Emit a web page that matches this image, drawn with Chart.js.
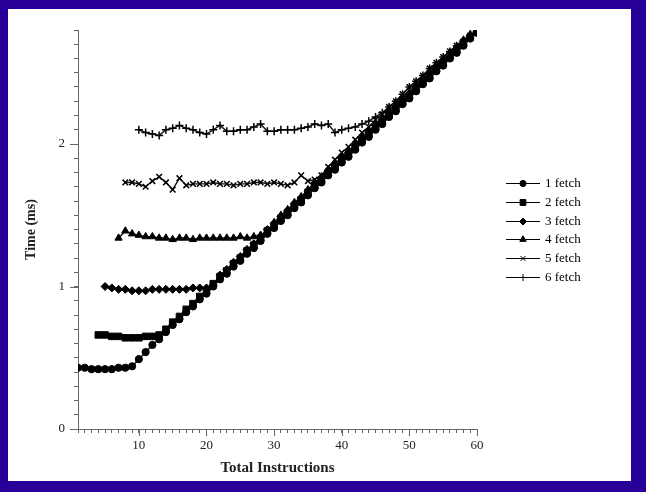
<!DOCTYPE html>
<html>
<head>
<meta charset="utf-8">
<script src="https://cdn.jsdelivr.net/npm/chart.js@4/dist/chart.umd.min.js"></script>
<style>
  html, body { margin: 0; padding: 0; width: 646px; height: 492px; background: #280099; overflow: hidden; }
  #frame { position: absolute; left: 8px; top: 9px; width: 623px; height: 472px; background: #fff; }
</style>
</head>
<body>
<div id="frame"><canvas id="chart" width="623" height="472"></canvas></div>
<script>
// x = total instructions 1..60
const xs = [];
for (let i = 1; i <= 60; i++) xs.push(i);

const seriesNames = ['1 fetch', '2 fetch', '3 fetch', '4 fetch', '5 fetch', '6 fetch'];
const pointStyles = ['circle', 'rect', 'rectRot', 'triangle', 'crossRot', 'cross'];
const pointSizes = [3.6, 4.6, 4, 4.2, 4, 4];

// time (ms), index 0 -> x = 1
const fetch1 = [0.43, 0.43, 0.42, 0.42, 0.42, 0.42, 0.43, 0.43, 0.44,
  0.49, 0.54, 0.59, 0.63, 0.68, 0.73, 0.77, 0.82, 0.86, 0.91,
  0.95, 1.00, 1.05, 1.09, 1.14, 1.18, 1.23, 1.27, 1.32, 1.37,
  1.41, 1.46, 1.50, 1.55, 1.59, 1.64, 1.69, 1.73, 1.78, 1.82,
  1.87, 1.91, 1.96, 2.01, 2.05, 2.10, 2.14, 2.19, 2.23, 2.28,
  2.32, 2.37, 2.42, 2.46, 2.51, 2.55, 2.60, 2.64, 2.69, 2.74,
  2.78];
const fetch2 = [null, null, null,
  0.66, 0.66, 0.65, 0.65, 0.64, 0.64, 0.64, 0.65, 0.65, 0.66,
  0.70, 0.75, 0.79, 0.84, 0.88, 0.93,
  0.97, 1.02, 1.07, 1.11, 1.16, 1.20, 1.25, 1.29, 1.34, 1.39,
  1.43, 1.48, 1.52, 1.57, 1.61, 1.66, 1.71, 1.75, 1.80, 1.84,
  1.89, 1.93, 1.98, 2.03, 2.07, 2.12, 2.16, 2.21, 2.25, 2.30,
  2.34, 2.39, 2.44, 2.48, 2.53, 2.57, 2.62, 2.66, 2.71, 2.75,
  2.79];
const fetch3 = [null, null, null, null,
  1.00, 0.99, 0.98, 0.98, 0.97, 0.97, 0.97, 0.98, 0.98, 0.98, 0.98, 0.98, 0.98, 0.99, 0.99, 0.99,
  1.01, 1.08, 1.12, 1.17, 1.21, 1.26, 1.30, 1.35, 1.40,
  1.44, 1.49, 1.53, 1.58, 1.62, 1.67, 1.72, 1.76, 1.81, 1.85,
  1.90, 1.94, 1.99, 2.04, 2.08, 2.13, 2.17, 2.22, 2.26, 2.31,
  2.35, 2.40, 2.45, 2.49, 2.54, 2.58, 2.63, 2.67, 2.72, 2.76,
  2.79];
const fetch4 = [null, null, null, null, null, null,
  1.34, 1.39, 1.37, 1.36, 1.35, 1.35, 1.34,
  1.34, 1.33, 1.34, 1.34, 1.33, 1.34, 1.34, 1.34, 1.34, 1.34, 1.34, 1.35, 1.34, 1.35,
  1.36, 1.39,
  1.45, 1.50, 1.54, 1.59, 1.63, 1.68, 1.73, 1.77, 1.82, 1.86,
  1.91, 1.95, 2.00, 2.05, 2.09, 2.14, 2.18, 2.23, 2.27, 2.32,
  2.36, 2.41, 2.46, 2.50, 2.55, 2.59, 2.64, 2.68, 2.73, 2.77,
  2.79];
const fetch5 = [null, null, null, null, null, null, null,
  1.73, 1.73, 1.72, 1.70, 1.74, 1.77, 1.73, 1.68, 1.76, 1.71, 1.72, 1.72,
  1.72, 1.73, 1.72, 1.72, 1.71, 1.72, 1.72, 1.73, 1.73, 1.72,
  1.73, 1.72, 1.71, 1.73, 1.78, 1.74, 1.75, 1.78, 1.84, 1.89,
  1.94, 1.98, 2.03, 2.08, 2.12, 2.17, 2.21, 2.26, 2.30, 2.35,
  2.40, 2.44, 2.48, 2.53, 2.57, 2.61, 2.65, 2.69, 2.72, 2.76,
  2.79];
const fetch6 = [null, null, null, null, null, null, null, null, null,
  2.10, 2.08, 2.07, 2.06, 2.10, 2.11, 2.13, 2.11, 2.10, 2.08,
  2.07, 2.10, 2.13, 2.09, 2.09, 2.10, 2.10, 2.12, 2.14, 2.09,
  2.09, 2.10, 2.10, 2.10, 2.11, 2.12, 2.14, 2.13, 2.14, 2.08,
  2.10, 2.11, 2.12, 2.14, 2.16, 2.19, 2.22, 2.26, 2.30, 2.35,
  2.40, 2.44, 2.48, 2.53, 2.57, 2.61, 2.65, 2.69, 2.72, 2.76,
  2.79];
const seriesValues = [fetch1, fetch2, fetch3, fetch4, fetch5, fetch6];

const xMajor = [10, 20, 30, 40, 50, 60];
const yMajor = [0, 1, 2];

const serif = "'Liberation Serif', 'DejaVu Serif', serif";
const axisColor = '#666';

const datasets = seriesNames.map((name, i) => ({
  label: name,
  data: xs.map((x, j) => ({ x: x, y: seriesValues[i][j] })),
  borderColor: '#111',
  backgroundColor: '#000',
  borderWidth: 1.4,
  pointStyle: pointStyles[i],
  pointRadius: pointSizes[i],
  pointBorderWidth: i >= 4 ? 1.5 : 1,
  pointBackgroundColor: '#000',
  pointBorderColor: '#000',
  tension: 0,
  spanGaps: false
}));

// longer major ticks + line/marker legend on the right
const extras = {
  id: 'extras',
  afterDraw(chart) {
    const ctx = chart.ctx;
    const sx = chart.scales.x, sy = chart.scales.y;
    ctx.save();
    ctx.strokeStyle = axisColor;
    ctx.lineWidth = 1;
    ctx.beginPath();
    xMajor.forEach(v => {
      const px = Math.round(sx.getPixelForValue(v)) + 0.5;
      ctx.moveTo(px, sx.top);
      ctx.lineTo(px, sx.top + 7);
    });
    yMajor.forEach(v => {
      const py = Math.round(sy.getPixelForValue(v)) + 0.5;
      ctx.moveTo(sy.right, py);
      ctx.lineTo(sy.right - 8, py);
    });
    ctx.stroke();

    const top = 174, step = 18.8;
    ctx.font = '13px ' + serif;
    ctx.textBaseline = 'middle';
    seriesNames.forEach((name, i) => {
      const y = Math.round(top + i * step) + 0.5;
      ctx.strokeStyle = '#000';
      ctx.lineWidth = 1;
      ctx.beginPath();
      ctx.moveTo(498, y);
      ctx.lineTo(532, y);
      ctx.stroke();
      ctx.fillStyle = '#000';
      Chart.helpers.drawPoint(ctx, {
        pointStyle: pointStyles[i], radius: pointSizes[i] - 0.5, borderWidth: 1, rotation: 0
      }, 515, y);
      ctx.fillStyle = '#000';
      ctx.fillText(name, 537, y);
    });
    ctx.restore();
  }
};

new Chart(document.getElementById('chart').getContext('2d'), {
  type: 'line',
  data: { datasets: datasets },
  options: {
    responsive: false,
    animation: false,
    layout: { padding: { left: 0, top: 21, right: 154, bottom: 0 } },
    plugins: { legend: { display: false }, tooltip: { enabled: false } },
    scales: {
      x: {
        type: 'linear',
        min: 1, max: 60,
        afterFit(scale) { scale.height = 52; },
        grid: { drawOnChartArea: false, drawTicks: true, tickLength: 4, color: axisColor },
        border: { display: true, color: axisColor, width: 1 },
        ticks: {
          stepSize: 1, autoSkip: false, maxRotation: 0, padding: 5,
          color: '#222', font: { family: serif, size: 13 },
          callback: v => (xMajor.includes(v) ? String(v) : '')
        },
        title: {
          display: true, text: 'Total Instructions', color: '#222',
          font: { family: serif, size: 15, weight: 'bold' },
          padding: { top: 0, bottom: 4 }
        }
      },
      y: {
        min: 0, max: 2.8,
        afterFit(scale) { scale.width = 70; },
        grid: { drawOnChartArea: false, drawTicks: true, tickLength: 4, color: axisColor },
        border: { display: true, color: axisColor, width: 1 },
        ticks: {
          stepSize: 0.1, maxTicksLimit: 100, autoSkip: false, padding: 9,
          color: '#222', font: { family: serif, size: 13 },
          callback: v => {
            const r = Math.round(v);
            return (Math.abs(v - r) < 1e-6 && yMajor.includes(r)) ? String(r) : '';
          }
        },
        title: {
          display: true, text: 'Time (ms)', color: '#222',
          font: { family: serif, size: 14, weight: 'bold' },
          padding: { top: 15, bottom: 0 }
        }
      }
    }
  },
  plugins: [extras]
});
</script>
</body>
</html>
